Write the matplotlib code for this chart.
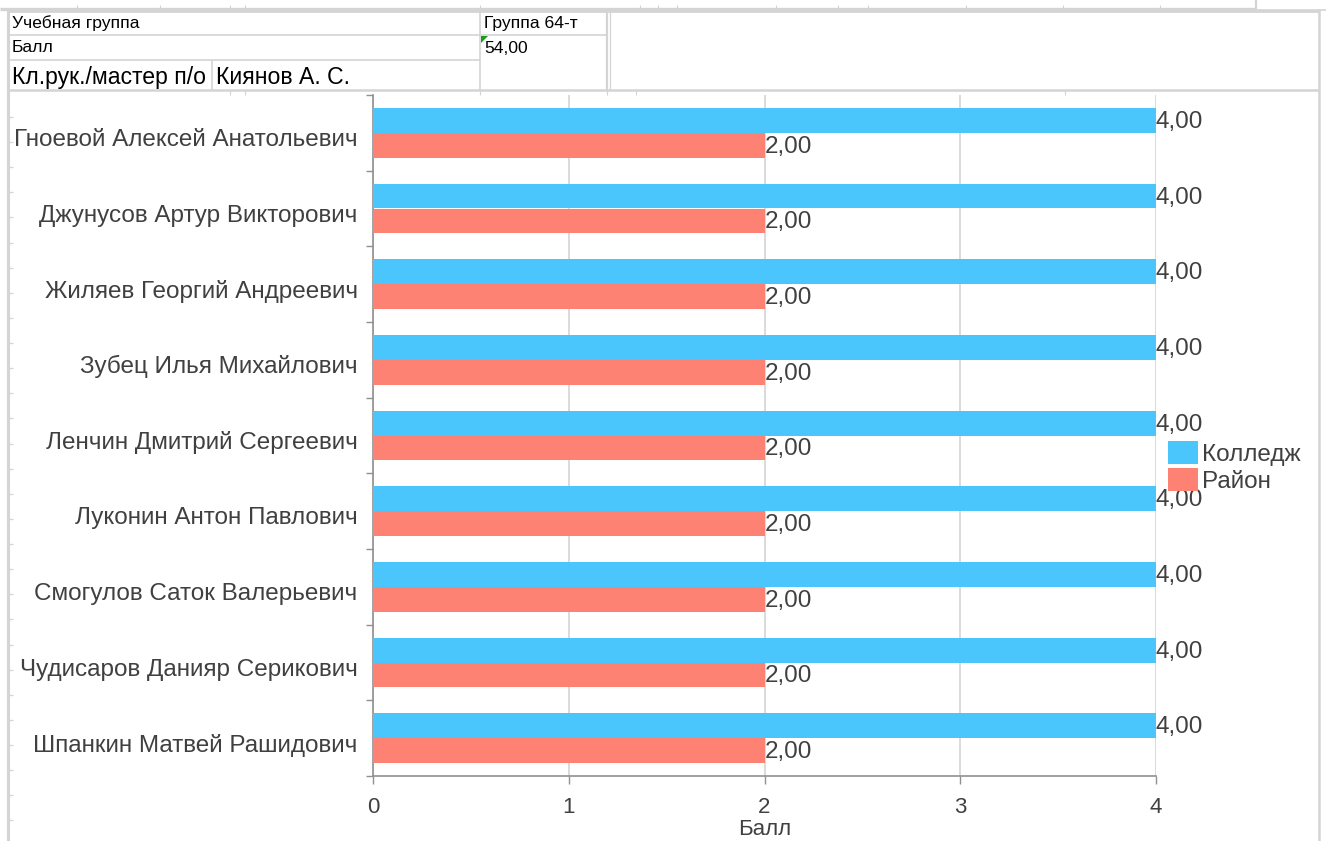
"""Spreadsheet-style report chart: student scores, college vs district."""
import matplotlib
matplotlib.use("Agg")
import matplotlib.pyplot as plt
import numpy as np

students = [
    "Гноевой Алексей Анатольевич",
    "Джунусов Артур Викторович",
    "Жиляев Георгий Андреевич",
    "Зубец Илья Михайлович",
    "Ленчин Дмитрий Сергеевич",
    "Луконин Антон Павлович",
    "Смогулов Саток Валерьевич",
    "Чудисаров Данияр Серикович",
    "Шпанкин Матвей Рашидович",
]
college = [4, 4, 4, 4, 4, 4, 4, 4, 4]
district = [2, 2, 2, 2, 2, 2, 2, 2, 2]
series_names = ["Колледж", "Район"]
x_ticks = [0, 1, 2, 3, 4]

header_rows = [
    ("Учебная группа", "Группа 64-т"),
    ("Балл", "54,00"),
]
teacher = ("Кл.рук./мастер п/о", "Киянов А. С.")

BLUE = "#4bc6fd"
RED = "#fe8274"
TXT = "#404040"
GRID = "#d8d8d8"
CELL = "#d4d4d4"

plt.rcParams["font.family"] = ["Liberation Sans", "DejaVu Sans"]

W, H = 1326, 841
fig = plt.figure(figsize=(W / 100, H / 100), dpi=100)
fig.patch.set_facecolor("white")

# ---- spreadsheet background (pixel coords) ----
bg = fig.add_axes([0, 0, 1, 1], zorder=0)
bg.set_xlim(0, W); bg.set_ylim(H, 0); bg.axis("off")

def hline(y, x0, x1, lw=1.2, c=CELL):
    bg.plot([x0, x1], [y, y], color=c, lw=lw, solid_capstyle="butt")

def vline(x, y0, y1, lw=1.2, c=CELL):
    bg.plot([x, x], [y0, y1], color=c, lw=lw, solid_capstyle="butt")

# caption of the sheet above, mostly scrolled out of view
bg.text(730, -8, "Балл", fontsize=15, color=TXT, va="center", ha="left")
hline(9, 0, 1256, lw=2.4)
vline(1256, 0, 9, lw=1.6)
hline(10, 1256, W, lw=1.2)
for tx in [77, 160, 230, 245, 480, 640, 658, 677, 776, 838, 868, 966, 1063, 1160]:
    vline(tx, 5, 8, lw=0.8)
hline(11, 8, 1319, lw=2.0)
hline(35, 8, 480)
hline(60, 8, 480)
hline(35, 480, 607)
hline(90, 8, 1319, lw=1.8)
vline(8, 10, H, lw=2.2)
vline(1319, 10, H, lw=1.8)
vline(480, 10, 90)
vline(607, 10, 90, lw=1.6)
vline(610, 10, 90, lw=0.9)
vline(212, 60, 90)
for ty in np.arange(117, H, 25.12):
    hline(ty, 8, 13, lw=0.9)
for tx in [230, 245, 480, 607, 636, 1065]:
    vline(tx, 90, 95, lw=0.8)

bg.text(12, 23, header_rows[0][0], fontsize=12.6, color="black", va="center")
bg.text(484, 23, header_rows[0][1], fontsize=12.6, color="black", va="center")
bg.text(12, 47, header_rows[1][0], fontsize=12.6, color="black", va="center")
bg.text(484, 48, header_rows[1][1], fontsize=12.6, color="black", va="center")
bg.fill([481, 488, 481], [36, 36, 43], color="#1a9c1a", lw=0)
bg.text(12, 77, teacher[0], fontsize=16.6, color="black", va="center")
bg.text(216, 77, teacher[1], fontsize=16.6, color="black", va="center")

# ---- chart ----
ax = fig.add_axes([373 / W, 1 - 776 / H, 783 / W, 681 / H], zorder=1)
ax.patch.set_alpha(0)
y = np.arange(len(students))
h = 0.33
b1 = ax.barh(y - h / 2, college, height=h, color=BLUE, label=series_names[0], zorder=3)
b2 = ax.barh(y + h / 2, district, height=h, color=RED, label=series_names[1], zorder=3)
for bars in (b1, b2):
    for r in bars:
        v = r.get_width()
        ax.text(v, r.get_y() + r.get_height() / 2 + 0.02, f"{v:.2f}".replace(".", ","),
                fontsize=17.5, color=TXT, ha="left", va="center", zorder=4)

ax.set_ylim(len(students) - 0.5, -0.5)
ax.set_xlim(0, 4)
ax.set_yticks(y + 0.06)
ax.set_yticklabels(students, fontsize=17.5, color=TXT)
ax.set_yticks(np.arange(-0.5, len(students)), minor=True)
ax.tick_params(axis="y", which="major", length=0, pad=11)
ax.tick_params(axis="y", which="minor", length=5, color="#909090", width=1)
ax.set_xticks(x_ticks)
ax.set_xticklabels([str(t) for t in x_ticks], fontsize=16, color=TXT)
ax.tick_params(axis="x", length=6, color="#909090", width=1, pad=9)
ax.set_xlabel("Балл", fontsize=16, color=TXT, labelpad=1)
ax.grid(axis="x", color=GRID, lw=1.3, zorder=0)
for s in ("top", "right"):
    ax.spines[s].set_visible(False)
for s in ("left", "bottom"):
    ax.spines[s].set_color("#909090")
    ax.spines[s].set_linewidth(1.2)

fig.legend(handles=[b1, b2], labels=series_names, loc="upper left",
           bbox_to_anchor=(1163 / W, 1 - 436 / H), frameon=False, fontsize=17.5,
           handlelength=1.24, handleheight=1.07, handletextpad=0.15,
           labelspacing=0.1, borderpad=0.2, borderaxespad=0, labelcolor=TXT)

fig.savefig("out.png", dpi=100, facecolor="white")
